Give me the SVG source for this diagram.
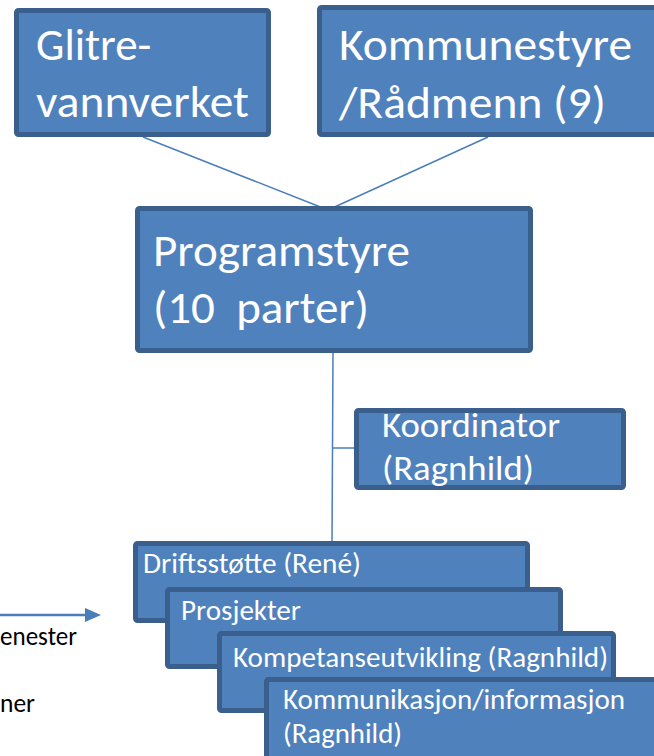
<svg xmlns="http://www.w3.org/2000/svg" width="654" height="756" viewBox="0 0 654 756">
<style>
.box{fill:#4F81BD;stroke:#3A5F8C;stroke-width:5;}
.t{fill:#FFFFFF;font-family:Carlito,Lato,"Open Sans",sans-serif;}
.big{font-size:45px;}
.mid{font-size:34px;}
.sm{font-size:28px;}
.blk{fill:#000000;font-family:Carlito,Lato,"Open Sans",sans-serif;font-size:27px;}
.con{stroke:#4A7EBB;stroke-width:1.5;fill:none;}
</style>
<rect width="654" height="756" fill="#FFFFFF"/>
<g id="connectors">
<line class="con" x1="143" y1="137" x2="328" y2="210"/>
<line class="con" x1="488" y1="137" x2="328" y2="210"/>
<line class="con" x1="333" y1="353" x2="332" y2="543"/>
<line class="con" x1="332" y1="448" x2="356" y2="448"/>
<line x1="-5" y1="615" x2="88" y2="615" stroke="#4A7EBB" stroke-width="2.5"/>
<polygon points="85,608 101,615 85,622" fill="#4A7EBB"/>
</g>
<g id="glitre">
<rect class="box" x="16.5" y="10.5" width="252" height="124" rx="2"/>
<text class="t big" x="36" y="60">Glitre-</text>
<text class="t big" x="36" y="117" textLength="213" lengthAdjust="spacingAndGlyphs">vannverket</text>
</g>
<g id="kommunestyre">
<rect class="box" x="319.5" y="7.5" width="360" height="127" rx="2"/>
<text class="t big" x="339" y="60" textLength="293" lengthAdjust="spacingAndGlyphs">Kommunestyre</text>
<text class="t big" x="339" y="118" textLength="267" lengthAdjust="spacingAndGlyphs">/Rådmenn (9)</text>
</g>
<g id="programstyre">
<rect class="box" x="137.5" y="208.5" width="393" height="142" rx="2"/>
<text class="t big" x="153" y="266" textLength="257" lengthAdjust="spacingAndGlyphs">Programstyre</text>
<text class="t big" x="153" y="323" textLength="216" lengthAdjust="spacingAndGlyphs" style="white-space:pre">(10  parter)</text>
</g>
<g id="koordinator">
<rect class="box" x="356.5" y="410.5" width="267" height="77" rx="2"/>
<text class="t mid" x="382" y="437" textLength="178" lengthAdjust="spacingAndGlyphs">Koordinator</text>
<text class="t mid" x="382" y="480" textLength="152" lengthAdjust="spacingAndGlyphs">(Ragnhild)</text>
</g>
<g id="driftsstotte">
<rect class="box" x="135.5" y="543.5" width="392" height="77" rx="2"/>
<text class="t sm" x="143" y="573" textLength="218" lengthAdjust="spacingAndGlyphs">Driftsstøtte (René)</text>
</g>
<g id="prosjekter">
<rect class="box" x="167.5" y="589.5" width="393" height="77" rx="2"/>
<text class="t sm" x="181" y="620" textLength="120" lengthAdjust="spacingAndGlyphs">Prosjekter</text>
</g>
<g id="kompetanse">
<rect class="box" x="219.5" y="633.5" width="394" height="77" rx="2"/>
<text class="t sm" x="233" y="667" textLength="375" lengthAdjust="spacingAndGlyphs">Kompetanseutvikling (Ragnhild)</text>
</g>
<g id="kommunikasjon">
<rect class="box" x="266.5" y="679.5" width="420" height="100" rx="2"/>
<text class="t sm" x="283" y="709" textLength="342" lengthAdjust="spacingAndGlyphs">Kommunikasjon/informasjon</text>
<text class="t sm" x="283" y="743" textLength="119" lengthAdjust="spacingAndGlyphs">(Ragnhild)</text>
</g>
<g id="left-texts">
<text class="blk" x="0" y="645" textLength="77" lengthAdjust="spacingAndGlyphs">enester</text>
<text class="blk" x="0" y="712" textLength="35" lengthAdjust="spacingAndGlyphs">ner</text>
</g>
</svg>
